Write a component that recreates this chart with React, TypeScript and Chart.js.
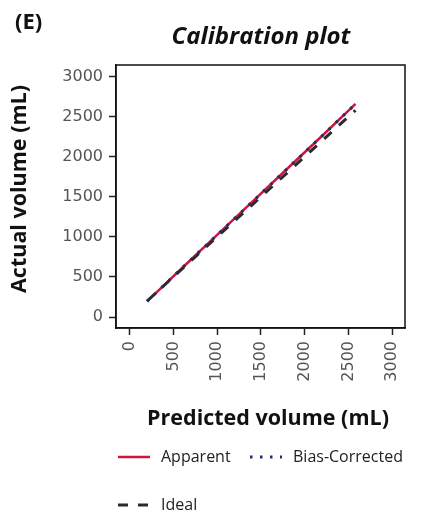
import React, { useEffect, useRef } from "react";
import { Chart, registerables } from "chart.js";

Chart.register(...registerables);

const predicted = [200, 600, 1000, 1400, 1800, 2200, 2580];
const apparent = [195, 612, 1024, 1436, 1850, 2262, 2660];
const biasCorrected = [195, 612, 1024, 1436, 1850, 2262, 2660];
const ideal = [200, 600, 1000, 1400, 1800, 2200, 2580];
const tickValues = [0, 500, 1000, 1500, 2000, 2500, 3000];

const TITLE = "Calibration plot";
const PANEL = "(E)";
const X_TITLE = "Predicted volume (mL)";
const Y_TITLE = "Actual volume (mL)";

const legendItems = [
  { label: "Apparent", color: "#d2143a", dash: [] as number[], width: 2.5, row: 0, x: 118 },
  { label: "Bias-Corrected", color: "#1a2f6e", dash: [2.5, 7.5], width: 3, row: 0, x: 250 },
  { label: "Ideal", color: "#2b2b2b", dash: [10, 10], width: 3, row: 1, x: 118 },
];

const TITLE_FONT = "'Open Sans', 'DejaVu Sans', sans-serif";
const TICK_FONT = "'DejaVu Sans', sans-serif";

const decorPlugin = {
  id: "decor",
  afterDraw(chart: any) {
    const { ctx, chartArea } = chart;
    ctx.save();
    ctx.strokeStyle = "#111";
    ctx.lineWidth = 1.5;
    ctx.strokeRect(chartArea.left, chartArea.top, chartArea.right - chartArea.left, chartArea.bottom - chartArea.top);
    ctx.fillStyle = "#111";
    ctx.font = `italic bold 24px ${TITLE_FONT}`;
    ctx.textAlign = "center";
    ctx.textBaseline = "middle";
    ctx.fillText(TITLE, 261, 37);
    // axis titles
    ctx.font = `bold 21.5px ${TITLE_FONT}`;
    ctx.fillText(X_TITLE, 268, 419);
    ctx.save();
    ctx.translate(20, 189);
    ctx.rotate(-Math.PI / 2);
    ctx.fillText(Y_TITLE, 0, 0);
    ctx.restore();
    ctx.font = `bold 22px ${TITLE_FONT}`;
    ctx.textAlign = "left";
    ctx.fillText(PANEL, 15, 23);
    const rowsY = [457, 505];
    for (const it of legendItems) {
      const y = rowsY[it.row];
      ctx.beginPath();
      ctx.strokeStyle = it.color;
      ctx.lineWidth = it.width;
      ctx.setLineDash(it.dash);
      ctx.moveTo(it.x, y);
      ctx.lineTo(it.x + 32, y);
      ctx.stroke();
      ctx.setLineDash([]);
      ctx.fillStyle = "#222";
      ctx.font = `16px ${TITLE_FONT}`;
      ctx.textAlign = "left";
      ctx.textBaseline = "middle";
      ctx.fillText(it.label, it.x + 43, y);
    }
    ctx.restore();
  },
};

export default function App() {
  const ref = useRef<HTMLCanvasElement | null>(null);
  useEffect(() => {
    if (!ref.current) return;
    const toPts = (ys: number[]) => predicted.map((x, i) => ({ x, y: ys[i] }));
    const tickCb = (v: any) => String(v);
    const chart = new Chart(ref.current, {
      type: "line",
      data: {
        datasets: [
          {
            label: "Apparent",
            data: toPts(apparent),
            borderColor: "#d2143a",
            borderWidth: 2.5,
            pointRadius: 0,
            order: 3,
          },
          {
            label: "Ideal",
            data: toPts(ideal),
            borderColor: "#2b2b2b",
            borderWidth: 3,
            borderDash: [10, 10],
            pointRadius: 0,
            order: 2,
          },
          {
            label: "Bias-Corrected",
            data: toPts(biasCorrected),
            borderColor: "#1a2f6e",
            borderWidth: 3,
            borderDash: [2.5, 7.5],
            pointRadius: 0,
            order: 1,
          },
        ],
      },
      options: {
        animation: false,
        responsive: false,
        layout: { padding: { top: 65, right: 17, left: 0, bottom: 0 } },
        plugins: { legend: { display: false }, title: { display: false }, tooltip: { enabled: false } },
        scales: {
          x: {
            type: "linear",
            min: -155,
            max: 3145,
            afterBuildTicks: (s: any) => { s.ticks = tickValues.map((v) => ({ value: v })); },
            afterFit: (s: any) => { s.height = 187; },
            ticks: {
              includeBounds: false,
              minRotation: 90,
              maxRotation: 90,
              padding: 6,
              color: "#555",
              font: { family: TICK_FONT, size: 16 },
              callback: tickCb,
            },
            grid: { drawOnChartArea: false, drawTicks: true, tickLength: 7, color: "#222", tickWidth: 1.5 },
            border: { display: true, color: "#111", width: 1.5 },
            title: { display: false },
          },
          y: {
            type: "linear",
            min: -137,
            max: 3145,
            afterBuildTicks: (s: any) => { s.ticks = tickValues.map((v) => ({ value: v })); },
            afterFit: (s: any) => { s.width = 116; },
            ticks: {
              includeBounds: false,
              padding: 6,
              color: "#555",
              font: { family: TICK_FONT, size: 16 },
              callback: tickCb,
            },
            grid: { drawOnChartArea: false, drawTicks: true, tickLength: 7, color: "#222", tickWidth: 1.5 },
            border: { display: true, color: "#111", width: 1.5 },
            title: { display: false },
          },
        },
      },
      plugins: [decorPlugin],
    });
    return () => chart.destroy();
  }, []);
  return (
    <div style={{ position: "fixed", left: 0, top: 0, width: 422, height: 515, background: "#fff" }}>
      <canvas ref={ref} width={422} height={515} style={{ display: "block" }} />
    </div>
  );
}
